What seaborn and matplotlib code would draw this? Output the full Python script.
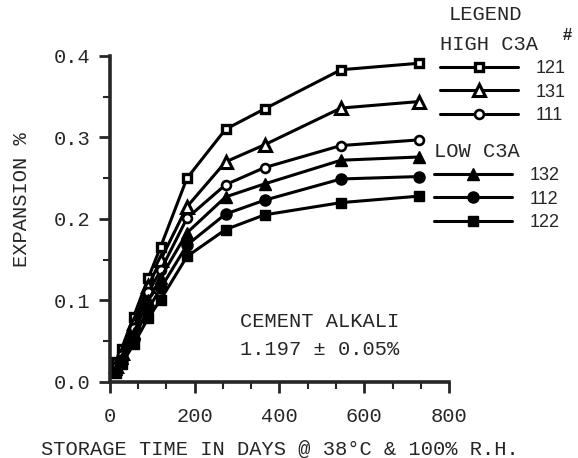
import matplotlib
matplotlib.use("Agg")
import matplotlib.pyplot as plt
from matplotlib.ticker import MultipleLocator
import pandas as pd
import seaborn as sns

# storage time (days) and expansion (%)
days = [14, 28, 56, 91, 120, 182, 273, 365, 545, 730]
exp_121 = [0.025, 0.041, 0.080, 0.128, 0.166, 0.250, 0.310, 0.335, 0.383, 0.391]
exp_131 = [0.020, 0.036, 0.072, 0.118, 0.150, 0.215, 0.270, 0.291, 0.336, 0.344]
exp_111 = [0.018, 0.033, 0.066, 0.110, 0.137, 0.201, 0.242, 0.263, 0.290, 0.297]
exp_132 = [0.016, 0.030, 0.060, 0.100, 0.128, 0.183, 0.227, 0.243, 0.272, 0.276]
exp_112 = [0.014, 0.027, 0.053, 0.090, 0.115, 0.168, 0.206, 0.223, 0.249, 0.252]
exp_122 = [0.011, 0.022, 0.046, 0.079, 0.101, 0.154, 0.187, 0.205, 0.220, 0.228]

high_ids = ["121", "131", "111"]
low_ids = ["132", "112", "122"]

sns.set_style("white")
plt.rcParams["font.family"] = ["Liberation Mono", "DejaVu Sans Mono"]

mono = 14.7
fig = plt.figure(figsize=(5.78, 4.58), dpi=100)
ax = fig.add_axes([0.190, 0.166, 0.587, 0.712])

# marker style per series: (marker, filled, size, edge width)
styles = {
    "121": ("s", False, 5.5, 2.4),
    "131": ("^", False, 8.0, 2.2),
    "111": ("o", False, 6.4, 1.9),
    "132": ("^", True, 8.0, 1.0),
    "112": ("o", True, 8.0, 1.0),
    "122": ("s", True, 7.5, 1.0),
}
series = {"121": exp_121, "131": exp_131, "111": exp_111,
          "132": exp_132, "112": exp_112, "122": exp_122}

lines = {}
for sid, vals in series.items():
    mk, filled, ms, mew = styles[sid]
    df = pd.DataFrame({"days": days, "exp": vals})
    sns.lineplot(data=df, x="days", y="exp", ax=ax, color="black", lw=2.2,
                 marker=mk, markersize=ms, markeredgewidth=mew,
                 markerfacecolor="black" if filled else "white",
                 markeredgecolor="black", legend=False, clip_on=False)
    lines[sid] = ax.get_lines()[-1]

ax.set_xlim(0, 800)
ax.set_ylim(0, 0.4)
ax.xaxis.set_major_locator(MultipleLocator(200))
ax.xaxis.set_minor_locator(MultipleLocator(200 / 3))
ax.yaxis.set_major_locator(MultipleLocator(0.1))
ax.yaxis.set_minor_locator(MultipleLocator(0.05))
ax.set_yticks([0, 0.1, 0.2, 0.3, 0.4], ["0.0", "0.1", "0.2", "0.3", "0.4"])
ax.tick_params(which="major", direction="out", length=8, width=2, labelsize=mono,
               bottom=True, left=True)
ax.tick_params(axis="x", which="major", pad=10)
ax.tick_params(axis="y", which="major", pad=6)
ax.tick_params(which="minor", direction="out", length=5, width=1.5,
               bottom=True, left=True)
for side in ["top", "right"]:
    ax.spines[side].set_visible(False)
for side in ["left", "bottom"]:
    ax.spines[side].set_linewidth(2.6)

ax.set_xlabel("STORAGE TIME IN DAYS @ 38°C & 100% R.H.", fontsize=mono, labelpad=10)
ax.set_ylabel("EXPANSION %", fontsize=mono, labelpad=16, y=0.56)

ax.text(0.385, 0.141, "CEMENT ALKALI\n1.197 ± 0.05%", transform=ax.transAxes,
        fontsize=mono, ha="left", va="center", linespacing=1.6)

# custom legend
fig.text(485 / 578, 1 - 15 / 458, "LEGEND", fontsize=mono, ha="center", va="center")
fig.text(567 / 578, 1 - 35 / 458, "#", fontsize=12, ha="center", va="center",
         family="Liberation Sans", weight="bold")

leg_kw = dict(frameon=False, borderpad=0, borderaxespad=0, handlelength=4.3,
              handletextpad=1.0, labelspacing=0.35, numpoints=1,
              prop={"family": "Liberation Sans", "size": 13},
              title_fontproperties={"family": "Liberation Mono", "size": mono},
              alignment="left", loc="upper left")
leg1 = fig.legend([lines[s] for s in high_ids], high_ids,
                  title="HIGH C3A", bbox_to_anchor=(440 / 578, 1 - 35 / 458), **leg_kw)
leg2 = fig.legend([lines[s] for s in low_ids], low_ids,
                  title="LOW C3A", bbox_to_anchor=(434 / 578, 1 - 142 / 458), **leg_kw)

fig.savefig("out.png", dpi=100)
